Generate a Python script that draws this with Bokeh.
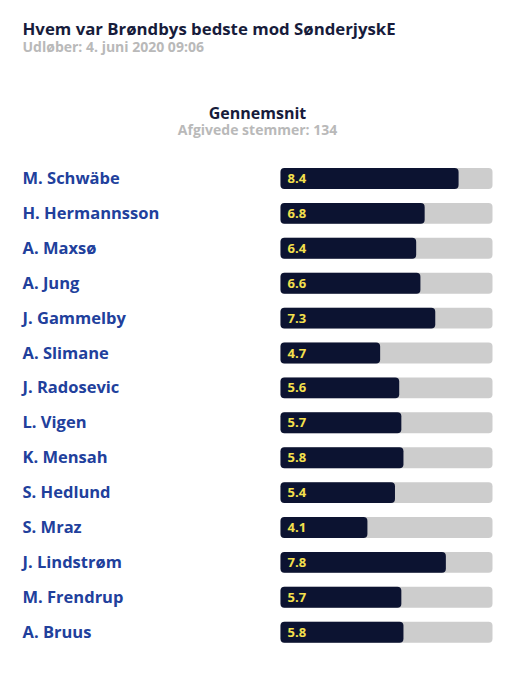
from bokeh.plotting import figure
from bokeh.models import Range1d, ColumnDataSource
from bokeh.core.properties import value
from bokeh.embed import file_html
from bokeh.resources import INLINE

players = ["M. Schwäbe", "H. Hermannsson", "A. Maxsø", "A. Jung", "J. Gammelby",
           "A. Slimane", "J. Radosevic", "L. Vigen", "K. Mensah", "S. Hedlund",
           "S. Mraz", "J. Lindstrøm", "M. Frendrup", "A. Bruus"]
ratings = [8.4, 6.8, 6.4, 6.6, 7.3, 4.7, 5.6, 5.7, 5.8, 5.4, 4.1, 7.8, 5.7, 5.8]
max_rating = 10
title = "Hvem var Brøndbys bedste mod SønderjyskE"
subtitle = "Udløber: 4. juni 2020 09:06"
heading = "Gennemsnit"
votes_label = "Afgivede stemmer: 134"

W, H = 514, 700
px_per_unit = 21.2
x0_px = 280
row0_px = 178
row_px = 34.9

x_start = -x0_px / px_per_unit
x_end = (W - x0_px) / px_per_unit
y_top = -row0_px / row_px
y_bot = (H - row0_px) / row_px

def px_x(px):
    return (px - x0_px) / px_per_unit

def px_y(px):
    return (px - row0_px) / row_px

idx = list(range(len(players)))
src = ColumnDataSource(dict(
    y=idx, name=players, rating=ratings,
    full=[max_rating] * len(players),
    lbl=[f"{r:.1f}" for r in ratings],
))

p = figure(width=W, height=H, output_backend="svg", toolbar_location=None,
           x_range=Range1d(x_start, x_end), y_range=Range1d(y_bot, y_top),
           min_border=0, outline_line_color=None)
p.xaxis.visible = False
p.yaxis.visible = False
p.xgrid.visible = False
p.ygrid.visible = False
p.background_fill_color = "white"
p.border_fill_color = "white"

FONT = value("Open Sans")

p.hbar(y="y", left=0, right="full", height=0.6, source=src,
       fill_color="#cdcdcd", line_color=None, border_radius=4)
p.hbar(y="y", left=0, right="rating", height=0.6, source=src,
       fill_color="#0c1331", line_color=None, border_radius=4)
p.text(x=px_x(287), y="y", text="lbl", source=src, text_font=FONT,
       text_font_style="bold", text_font_size="13px", text_color="#f4e04d",
       text_align="left", text_baseline="middle")
p.text(x=px_x(22), y="y", y_offset=-1, text="name", source=src, text_font=FONT,
       text_font_style="bold", text_font_size="16.5px", text_color="#21409c",
       text_align="left", text_baseline="middle")

p.text(x=[px_x(22)], y=[px_y(28)], text=[title], text_font=FONT,
       text_font_style="bold", text_font_size="16.8px", text_color="#171c3b",
       text_align="left", text_baseline="middle")
p.text(x=[px_x(22)], y=[px_y(46)], text=[subtitle], text_font=FONT,
       text_font_style="bold", text_font_size="14px", text_color="#b9b9b9",
       text_align="left", text_baseline="middle")
p.text(x=[px_x(257)], y=[px_y(112)], text=[heading], text_font=FONT,
       text_font_style="bold", text_font_size="16px", text_color="#171c3b",
       text_align="center", text_baseline="middle")
p.text(x=[px_x(257)], y=[px_y(129)], text=[votes_label], text_font=FONT,
       text_font_style="bold", text_font_size="14px", text_color="#b9b9b9",
       text_align="center", text_baseline="middle")

open("out.html", "w").write(file_html(p, INLINE))
